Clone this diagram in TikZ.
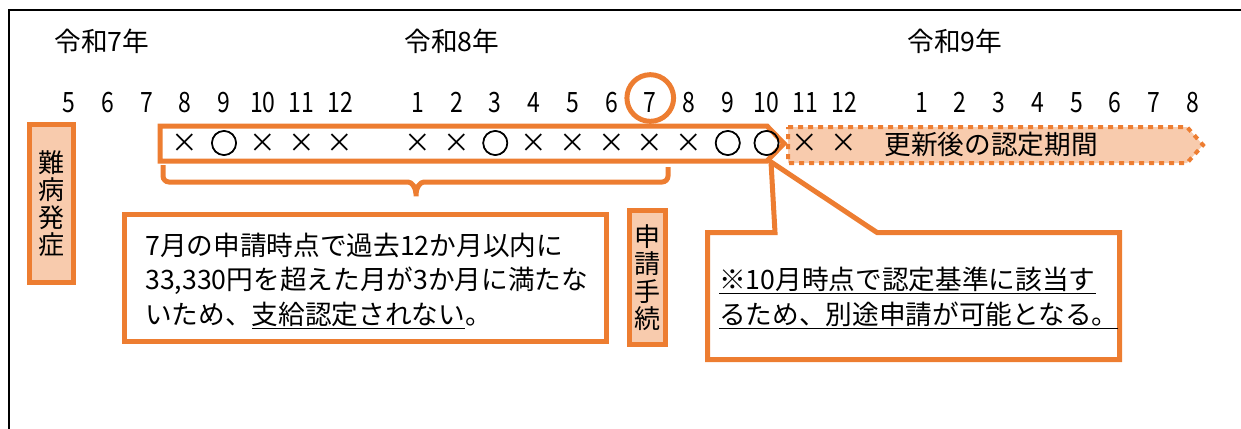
\documentclass[tikz,border=0pt]{standalone}
\usepackage{fontspec}
\setmainfont{Noto Sans CJK JP}
\newfontfamily\numfont[FakeStretch=0.82]{Noto Sans CJK JP}
\newfontfamily\ringfont[FakeBold=2.5]{Noto Sans CJK JP}
\usepackage{xcolor}
\definecolor{Carrot}{RGB}{237,125,49}
\definecolor{Peach}{RGB}{248,203,173}
\usetikzlibrary{calc}

\begin{document}
\begin{tikzpicture}[x=0.75pt, y=-0.75pt,
        month/.style={font=\numfont\fontsize{21}{21}\selectfont, anchor=base, inner sep=1pt},
        year/.style={font=\fontsize{20}{20}\selectfont, anchor=base},
        mk/.style={font=\fontsize{20}{20}\selectfont, inner sep=0pt},
        orangeline/.style={draw=Carrot, line width=3.75pt},
        tagbox/.style={orangeline, fill=Peach, align=center, inner sep=0pt, font=\fontsize{19.5}{20.5}\selectfont},
        bodytext/.style={align=left, anchor=west, inner sep=0pt, font=\fontsize{20}{26}\selectfont}]
        \useasboundingbox (0,0) rectangle (1241,428);
        \draw[line width=1.5pt] (9,440) -- (9,10) -- (1250,10);

        \node[year] (y7) at (102,52) {令和7年};
        \node[year] (y8) at (452,52) {令和8年};
        \node[year] (y9) at (955,52) {令和9年};

        \foreach \m in {5,...,12} \node[month] (m7-\m) at ({69+38.75*(\m-5)},112) {\m};
        \foreach \m in {1,...,12} \node[month] (m8-\m) at ({69+38.75*(\m+8)},112) {\m};
        \foreach \m in {1,...,8} \node[month] (m9-\m) at ({69+38.75*(\m+21)},112) {\m};
        \draw[orangeline] ($(m8-7.center)+(0,-4)$) circle[radius=17.5pt];

        \draw[draw=Carrot, line width=3pt, dash pattern=on 3.75pt off 3.75pt, fill=Peach]
            (788,127) -- (1187,127) -- (1203,145) -- (1187,163) -- (788,163) -- cycle;
        \draw[orangeline, fill=white] (707.5,232.5) -- (775,232.5) -- (771,162) -- (877,232.5)
            -- (1119.5,232.5) -- (1119.5,359.5) -- (707.5,359.5) -- cycle;
        \draw[orangeline, fill=white] (160,126) -- (767,126) -- (784,143.5) -- (767,161) -- (160,161) -- cycle;

        \coordinate (markrow) at (0,143);
        \foreach \m/\s in {8/×,9/{\ringfont\fontsize{21}{21}\selectfont ○},10/×,11/×,12/×}
            \node[mk] (k7-\m) at (m7-\m |- markrow) {\s};
        \foreach \m/\s in {1/×,2/×,3/{\ringfont\fontsize{21}{21}\selectfont ○},4/×,5/×,6/×,7/×,8/×,
                9/{\ringfont\fontsize{21}{21}\selectfont ○},10/{\ringfont\fontsize{21}{21}\selectfont ○},11/×,12/×}
            \node[mk] (k8-\m) at (m8-\m |- markrow) {\s};
        \node[mk] (renew) at (991,144) {更新後の認定期間};

        \draw[orangeline, rounded corners=4.5pt] (163,165) -- (163,182) -- (402,182)
            .. controls (412,182) and (416,188) .. (416,200)
            .. controls (416,188) and (420,182) .. (430,182) -- (668,182) -- (668,167);

        \draw[orangeline, fill=white] (124.5,214.5) rectangle (606.5,341.5);
        \node[bodytext] (reason) at (145,281) {7月の申請時点で過去12か月以内に\\33,330円を超えた月が3か月に満たな\\いため、\underline{支給認定されない}。};
        \node[bodytext] (note) at (719,298) {\underline{※10月時点で認定基準に該当す}\\\underline{るため、別途申請が可能となる。}};

        \node[tagbox, minimum width=33pt, minimum height=118.5pt] (onset) at (51.5,203.5) {難\\病\\発\\症};
        \node[tagbox, minimum width=27pt, minimum height=100.5pt] (apply) at (647.5,277.5) {申\\請\\手\\続};
    \end{tikzpicture}
\end{document}
